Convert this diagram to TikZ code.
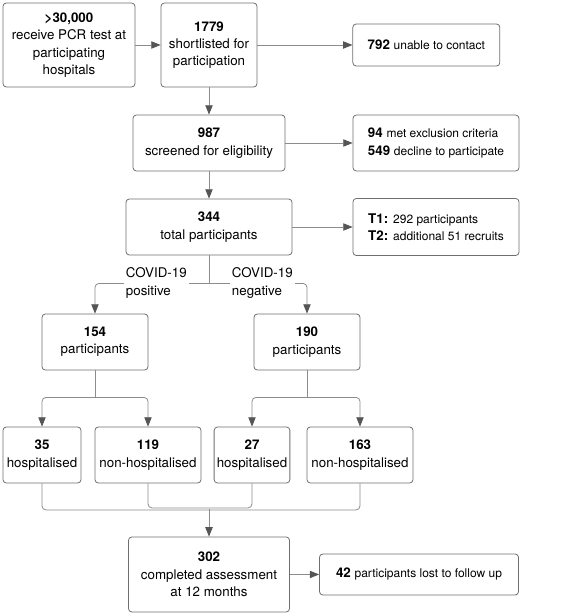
\documentclass[tikz,border=0pt]{standalone}
\usepackage{fontspec}
\setmainfont{TeX Gyre Heros}
\usepackage{tikz}
\usetikzlibrary{shapes.geometric, arrows.meta}
\definecolor{boxgray}{HTML}{6E6E6E}
\definecolor{linegray}{HTML}{8C8C8C}
\definecolor{headgray}{HTML}{555555}
\tikzstyle{stage} = [rectangle, rounded corners=2.5pt, draw=boxgray, line width=0.6pt, align=center, inner sep=2pt, font=\fontsize{10pt}{13pt}\selectfont]
\tikzstyle{drop} = [stage, align=left]
\tikzstyle{branch} = [fill=white, align=left, inner xsep=1.5pt, inner ysep=0pt, font=\fontsize{10pt}{13.5pt}\selectfont]
\tikzstyle{line} = [draw=linegray, line width=0.6pt, rounded corners=3pt]
\tikzstyle{arrow} = [line, -{Triangle[length=7pt, width=5.5pt, color=headgray]}]
\newcommand{\sm}{\fontsize{9pt}{13pt}\selectfont}

\begin{document}
\begin{tikzpicture}[node distance=60pt]
\useasboundingbox (0,0) rectangle (420pt,-462pt);
% recruitment
\node (hospitals) [stage, minimum width=99pt, minimum height=63pt] at (51.75pt,-33.75pt) {\textbf{>30,000}\\receive PCR test at\\participating\\hospitals};
\node (shortlist) [stage, right of = hospitals, xshift=45pt, minimum width=72pt, minimum height=63pt] {\textbf{1779}\\shortlisted for\\participation};
\node (contact) [stage, right of = shortlist, xshift=103pt, minimum width=110.25pt, minimum height=31.5pt] {\textbf{792} {\sm unable to contact}};
\node (screened) [stage, below of = shortlist, yshift=-13.5pt, minimum width=114pt, minimum height=42pt] {\textbf{987}\\screened for eligibility};
\node (excluded) [drop, right of = screened, xshift=110.25pt, minimum width=124.5pt, minimum height=42pt] {\textbf{94} {\sm met exclusion criteria}\\\textbf{549} {\sm decline to participate}};
\node (total) [stage, below of = screened, yshift=-3pt, minimum width=124.5pt, minimum height=42pt] {\textbf{344}\\total participants};
\node (timepoints) [drop, right of = total, xshift=110.25pt, minimum width=124.5pt, minimum height=42.75pt] {\textbf{T1:} {\sm 292 participants}\\\textbf{T2:} {\sm additional 51 recruits}};
% covid groups
\node (positive) [stage, below of = total, xshift=-85.5pt, yshift=-26.25pt, minimum width=79.5pt, minimum height=42pt] {\textbf{154}\\participants};
\node (negative) [stage, right of = positive, xshift=99pt, minimum width=79.5pt, minimum height=42pt] {\textbf{190}\\participants};
\node (posHosp) [stage, below of = positive, xshift=-39.75pt, yshift=-24.75pt, minimum width=58.5pt, minimum height=42pt] {\textbf{35}\\hospitalised};
\node (posNon) [stage, right of = posHosp, xshift=19.5pt, minimum width=79.5pt, minimum height=42pt] {\textbf{119}\\non-hospitalised};
\node (negHosp) [stage, below of = negative, xshift=-41.25pt, yshift=-24.75pt, minimum width=55.5pt, minimum height=42pt] {\textbf{27}\\hospitalised};
\node (negNon) [stage, right of = negHosp, xshift=21pt, minimum width=79.5pt, minimum height=42pt] {\textbf{163}\\non-hospitalised};
% follow up
\node (followup) [stage, below of = total, yshift=-200.6pt, minimum width=120.75pt, minimum height=56.25pt] {\textbf{302}\\completed assessment\\at 12 months};
\node (lost) [stage, right of = followup, xshift=97.5pt, minimum width=149.25pt, minimum height=30.75pt] {\textbf{42} {\sm participants lost to follow up}};
\coordinate (split) at ([yshift=-21pt]total.south);
\coordinate (posSplit) at ([yshift=-20.25pt]positive.south);
\coordinate (negSplit) at ([yshift=-20.25pt]negative.south);
\coordinate (merge) at ([yshift=21pt]followup.north);
\draw [arrow] (hospitals) -- (shortlist);
\draw [arrow] (shortlist) -- (contact);
\draw [arrow] (shortlist) -- (screened.north -| shortlist);
\draw [arrow] (screened) -- (excluded);
\draw [arrow] (screened.south -| total) -- (total);
\draw [arrow] (total) -- (timepoints);
\draw [line] (total) -- (split);
\draw [arrow] (split) -| (positive);
\draw [arrow] (split) -| (negative);
\node (posLabel) [branch, anchor=west] at ([xshift=-64pt]split) {COVID-19\\positive};
\node (negLabel) [branch, anchor=west] at ([xshift=15.5pt]split) {COVID-19\\negative};
\draw [line] (positive) -- (posSplit);
\draw [arrow] (posSplit) -| (posHosp);
\draw [arrow] (posSplit) -| (posNon);
\draw [line] (negative) -- (negSplit);
\draw [arrow] (negSplit) -| (negHosp);
\draw [arrow] (negSplit) -| (negNon);
\draw [line] (posHosp) |- ([yshift=-1pt]merge);
\draw [line] (posNon) |- ([yshift=0.5pt]merge);
\draw [line] (negHosp) |- ([yshift=0.5pt]merge);
\draw [line] (negNon) |- ([yshift=-1pt]merge);
\draw [arrow] (merge) -- (followup);
\draw [arrow] (followup) -- (lost);
\end{tikzpicture}
\end{document}
